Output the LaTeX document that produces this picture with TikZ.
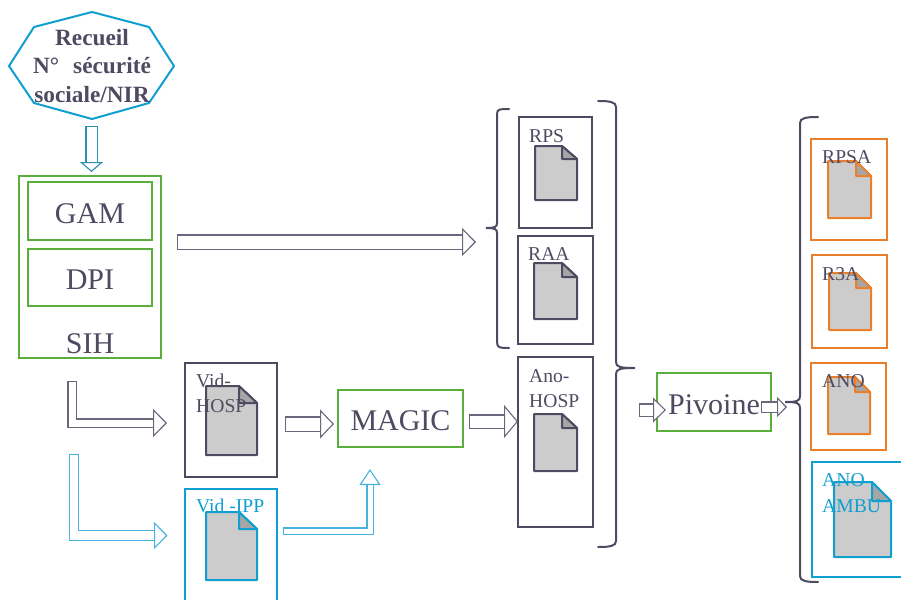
\documentclass[tikz,border=0pt]{standalone}
\usepackage{fontspec}
\setmainfont{Liberation Serif}
\usetikzlibrary{arrows.meta, positioning}

\definecolor{ink}{HTML}{4F4A62}
\definecolor{inkarrow}{HTML}{6B667C}
\definecolor{sihgreen}{HTML}{5AAE3C}
\definecolor{anoorange}{HTML}{E97F2B}
\definecolor{ippblue}{HTML}{0F9FD0}
\definecolor{tealarrow}{HTML}{2B8FB0}
\definecolor{bluearrow}{HTML}{4AB3DD}

% document icon: colour, left, top, right, bottom, fold x, fold y
\newcommand{\docicon}[7]{
    \draw[#1, line width=2, fill=black!20, line join=round]
        (#2,#3) -- (#6,#3) -- (#4,#7) -- (#4,#5) -- (#2,#5) -- cycle;
    \draw[#1, line width=2, fill=black!35, line join=round]
        (#6,#3) -- (#4,#7) -- (#6,#7) -- cycle;
}

\begin{document}
\begin{tikzpicture}[
    x=1pt, y=-1pt,
    % Node styles
    framebox/.style={
        rectangle,
        draw=#1,
        line width=2,
        inner sep=0,
        outer sep=0
    },
    bigtext/.style={
        font=\fontsize{30}{34}\selectfont,
        text=ink,
        text height=24,
        text depth=0,
        inner sep=0
    },
    smalltext/.style={
        font=\fontsize{19.6}{25.5}\selectfont,
        text=#1,
        align=left,
        anchor=north west,
        inner sep=0
    },
    smalltext/.default=ink,
    blockarrow/.style n args={5}{
        draw=#1,
        line width=1.1,
        double=white,
        double distance=#2,
        line join=miter,
        arrows={{Bar[width=#3,line width=1.1]}-{Triangle[open,fill=white,length=#4,width=#5,line width=1.1]}}
    },
    bracket/.style={
        draw=ink,
        line width=2,
        line cap=round
    }
]
\clip (0,0) rectangle (901,599);

% === Recueil ===
\draw[ippblue, line width=2, line join=round]
    (92,12) -- (149,27) -- (174,66) -- (149,103) -- (92,119) -- (34,103) -- (9,66) -- (34,27) -- cycle;
\node[align=center, inner sep=0, text=ink, font=\fontsize{23.3}{28.5}\selectfont\bfseries]
    (recueil) at (92,66) {Recueil\\N°\hspace{14pt}sécurité\\sociale/NIR};

% === SIH ===
\node[framebox=sihgreen, minimum width=142, minimum height=182] (sih) at (90,267) {};
\node[framebox=sihgreen, minimum width=124, minimum height=58, bigtext] (gam) at (90,211) {GAM};
\node[framebox=sihgreen, minimum width=124, minimum height=57, bigtext] (dpi) at (90,277) {DPI};
\node[bigtext] (sihlabel) at (90,341) {SIH};

% === Vid ===
\node[framebox=ink, minimum width=92, minimum height=114] (vidhosp) at (231,420) {};
\docicon{ink}{206}{386}{257}{455}{239}{403}
\node[smalltext] (vidhosplabel) at (196,373.5) {Vid-\\HOSP};
\node[framebox=ippblue, minimum width=92, minimum height=140] (vidipp) at (231,559) {};
\docicon{ippblue}{206}{512}{257}{580}{239}{529}
\node[smalltext=ippblue] (vidipplabel) at (196,499) {Vid -IPP};

% === MAGIC ===
\node[framebox=sihgreen, minimum width=125, minimum height=57, bigtext] (magic) at (400.5,418.5) {MAGIC};

% === First group ===
\node[framebox=ink, minimum width=73, minimum height=111] (rps) at (555.5,172.5) {};
\docicon{ink}{535}{146}{577}{200}{562}{159}
\node[smalltext] (rpslabel) at (529,129) {RPS};
\node[framebox=ink, minimum width=75, minimum height=108] (raa) at (555.5,290) {};
\docicon{ink}{534}{263}{577}{319}{562}{277}
\node[smalltext] (raalabel) at (528,247) {RAA};
\node[framebox=ink, minimum width=75, minimum height=170] (anohosp) at (555.5,442) {};
\docicon{ink}{534}{414}{577}{471}{562}{428}
\node[smalltext] (anohosplabel) at (529,369) {Ano-\\HOSP};

% === Pivoine ===
\node[framebox=sihgreen, minimum width=114, minimum height=58, bigtext] (pivoine) at (714,402) {Pivoine};

% === Second group ===
\node[framebox=anoorange, minimum width=76, minimum height=101] (rpsa) at (849,189.5) {};
\docicon{anoorange}{828}{161}{871}{218}{856}{176}
\node[smalltext] (rpsalabel) at (822,150) {RPSA};
\node[framebox=anoorange, minimum width=75, minimum height=93] (rtroisa) at (849.5,301.5) {};
\docicon{anoorange}{829}{273}{871}{330}{856}{288}
\node[smalltext] (rtroisalabel) at (822,267) {R3A};
\node[framebox=anoorange, minimum width=75, minimum height=87] (ano) at (848.5,406.5) {};
\docicon{anoorange}{828}{377}{870}{434}{855}{392}
\node[smalltext] (anolabel) at (822,374) {ANO};
\node[framebox=ippblue, minimum width=100, minimum height=115] (anoambu) at (862,519.5) {};
\docicon{ippblue}{834}{482}{891}{557}{872}{501}
\node[smalltext=ippblue] (anoambulabel) at (822,473.5) {ANO\\AMBU};

% === Brackets ===
\draw[bracket] (509,109) .. controls (500,109) and (497,109) .. (497,114) -- (497,223)
    .. controls (497,227) and (495,228) .. (486,228)
    .. controls (495,228) and (497,229) .. (497,233) -- (497,342)
    .. controls (497,348) and (500,348) .. (509,348);
\draw[bracket] (598,101) .. controls (610,101) and (616,102) .. (616,107) -- (616,362)
    .. controls (616,367) and (620,368) .. (635,368)
    .. controls (620,368) and (616,369) .. (616,374) -- (616,541)
    .. controls (616,546) and (610,547) .. (598,547);
\draw[bracket] (818,117) .. controls (806,117) and (800,118) .. (800,123) -- (800,396)
    .. controls (800,401) and (797,402) .. (785,402)
    .. controls (797,402) and (800,403) .. (800,408) -- (800,576)
    .. controls (800,581) and (806,582) .. (818,582);

% === Block arrows ===
\coordinate (recueilout) at (91.5,126);
\coordinate (sihin) at (91.5,172);
\coordinate (sihouta) at (177,242);
\coordinate (raain) at (476,242);
\coordinate (sihoutb) at (72,381);
\coordinate (vidhospin) at (167,423);
\coordinate (sihoutc) at (74,454);
\coordinate (vidippin) at (167.5,535.5);
\coordinate (vidhospout) at (285,424);
\coordinate (magicina) at (334,424);
\coordinate (vidippout) at (283,531);
\coordinate (magicinb) at (370,469);
\coordinate (magicout) at (469,421.5);
\coordinate (anohospin) at (518,421.5);
\coordinate (pivoinein) at (639,410);
\coordinate (pivoinetip) at (666,410);
\coordinate (pivoineout) at (761,407);
\coordinate (bracketin) at (787,407);

\draw[blockarrow={tealarrow}{10}{12.2}{10}{23}] (recueilout) -- (sihin);
\draw[blockarrow={inkarrow}{13}{15.2}{14}{28}] (sihouta) -- (raain);
\draw[blockarrow={inkarrow}{7}{9.2}{14}{28}] (sihoutb) |- (vidhospin);
\draw[blockarrow={bluearrow}{8.5}{10.7}{13.5}{27}] (sihoutc) |- (vidippin);
\draw[blockarrow={inkarrow}{13}{15.2}{14}{29}] (vidhospout) -- (magicina);
\draw[blockarrow={bluearrow}{5}{7.2}{16}{21}] (vidippout) -| (magicinb);
\draw[blockarrow={inkarrow}{12}{14.2}{14}{33}] (magicout) -- (anohospin);
\draw[blockarrow={inkarrow}{11}{13.2}{13}{25}] (pivoinein) -- (pivoinetip);
\draw[blockarrow={inkarrow}{9}{11.2}{10}{20}] (pivoineout) -- (bracketin);

\end{tikzpicture}
\end{document}
